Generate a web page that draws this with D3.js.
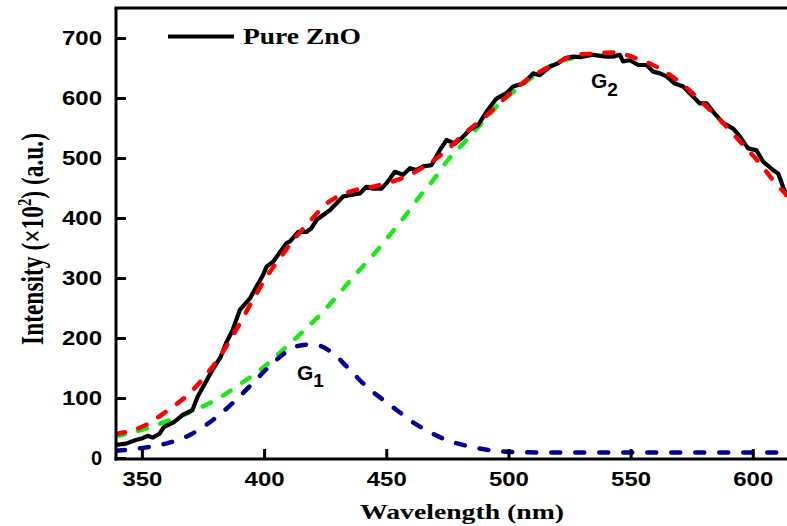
<!DOCTYPE html>
<html>
<head>
<meta charset="utf-8">
<script src="https://cdn.jsdelivr.net/npm/d3@7"></script>
<style>
	body { margin: 0; background: #fff; }
	svg { display: block; }
	.tick text { font-family: "Liberation Sans", Arial, sans-serif; font-weight: bold; font-size: 20px; fill: #000; }
	.label { font-family: "Liberation Serif", "Times New Roman", serif; font-weight: bold; fill: #000; }
	.glabel { font-family: "Liberation Sans", Arial, sans-serif; font-weight: bold; fill: #000; }
</style>
</head>
<body>
<svg width="787" height="526"></svg>
<script>
// measured spectrum (Pure ZnO)
let expWavelength = [339.4, 343.5, 347.5, 350.3, 352.3, 354.4, 357.1, 359.1, 363.2, 366.7, 370.7, 372.8, 375.5, 378.9, 382.3, 384.4, 387.1, 390.1, 394.2, 396.9, 399.6, 401.0, 403.7, 407.2, 409.2, 410.6, 414.0, 417.4, 419.4, 421.5, 426.9, 431.0, 432.4, 435.1, 439.2, 441.9, 444.6, 448.1, 450.1, 453.5, 456.9, 459.7, 462.4, 465.1, 468.5, 471.9, 474.7, 478.1, 480.8, 484.2, 487.6, 491.0, 495.1, 499.2, 501.9, 506.0, 510.1, 512.8, 516.9, 520.3, 523.1, 526.5, 529.2, 534.7, 540.1, 542.8, 545.6, 546.9, 549.7, 553.1, 556.5, 559.2, 562.0, 564.7, 568.1, 571.5, 574.9, 578.3, 581.1, 583.8, 587.9, 592.0, 594.7, 598.1, 601.5, 604.2, 608.3, 610.4, 612.4, 614.0];
let expIntensity = [22, 24, 30, 33, 37, 34, 40, 52, 60, 72, 80, 102, 122, 147, 169, 191, 213, 247, 266, 286, 305, 319, 327, 347, 358, 361, 377, 377, 383, 397, 413, 430, 436, 438, 441, 452, 449, 449, 458, 477, 472, 483, 480, 486, 488, 513, 530, 524, 533, 547, 555, 577, 599, 608, 619, 624, 641, 638, 652, 658, 666, 669, 668, 672, 669, 669, 672, 661, 663, 655, 655, 644, 641, 636, 624, 619, 605, 591, 591, 577, 558, 549, 536, 516, 513, 494, 480, 474, 452, 436];

// cumulative fit (red)
let fitWavelength = [339.4, 351.6, 359.8, 368.7, 376.2, 380.3, 387.8, 396.2, 401.0, 406.5, 411.9, 418.0, 425.6, 435.1, 444.6, 454.2, 463.7, 473.3, 482.9, 489.7, 497.8, 507.4, 518.3, 527.9, 534.7, 542.8, 552.4, 562.0, 571.5, 579.7, 587.9, 596.0, 602.9, 608.3, 614.0];
let fitIntensity = [40, 55, 77, 105, 138, 160, 208, 269, 302, 333, 363, 391, 424, 444, 452, 463, 481, 508, 544, 566, 597, 630, 655, 672, 674, 676, 666, 649, 622, 591, 558, 522, 491, 463, 438];

// peak G2 (green), visible part only (hidden under the fit beyond ~526 nm)
let g2Wavelength = [339.4, 351.6, 361.2, 370.7, 380.3, 389.8, 399.4, 408.5, 416.0, 423.5, 430.3, 437.2, 444.6, 451.5, 456.9, 463.1, 469.2, 475.3, 482.2, 489.0, 496.5, 504.7, 514.2, 523.1, 526.5];
let g2Intensity = [36, 49, 63, 78, 97, 122, 150, 183, 211, 241, 272, 305, 338, 372, 399, 433, 463, 497, 527, 558, 591, 619, 647, 663, 667];

// peak G1 (blue)
let g1Wavelength = [339.4, 348.9, 359.8, 369.4, 378.9, 387.8, 395.9, 403.5, 413.3, 417.9, 422.8, 428.3, 435.1, 441.9, 448.7, 454.9, 460.0, 466.5, 474.7, 484.2, 492.4, 502.0, 517.0, 537.4, 557.9, 578.3, 614.0];
let g1Intensity = [12, 16, 24, 38, 63, 94, 127, 158, 186, 189, 187, 174, 147, 119, 97, 78, 62, 46, 30, 19, 13, 10, 9, 9, 9, 9, 9];

let xTicks = [350, 400, 450, 500, 550, 600];
let yTicks = [0, 100, 200, 300, 400, 500, 600, 700];

let svg = d3.select('svg');
let plotLeft = 116, plotRight = 787, plotTop = 8, plotBottom = 458;

let xScale = d3.scaleLinear().domain([339.4, 614.0]).range([plotLeft, plotRight]);
let yScale = d3.scaleLinear().domain([0, 750]).range([plotBottom, plotTop]);

svg.append('clipPath').attr('id', 'plot')
	.append('rect').attr('x', plotLeft).attr('y', plotTop)
	.attr('width', plotRight - plotLeft).attr('height', plotBottom - plotTop + 2);

function pairs(xs, ys) {
	return xs.map(function(x, i) { return [x, ys[i]]; });
}

let smooth = d3.line()
	.x(function(d) { return xScale(d[0]); })
	.y(function(d) { return yScale(d[1]); })
	.curve(d3.curveMonotoneX);
let raw = d3.line()
	.x(function(d) { return xScale(d[0]); })
	.y(function(d) { return yScale(d[1]); });

let plot = svg.append('g').attr('clip-path', 'url(#plot)');

// green peak
plot.append('path').datum(pairs(g2Wavelength, g2Intensity))
	.attr('d', smooth).attr('fill', 'none')
	.attr('stroke', '#1ee61e').attr('stroke-width', 4.5)
	.attr('stroke-linecap', 'round').attr('stroke-dasharray', '9,14');

// blue peak
plot.append('path').datum(pairs(g1Wavelength, g1Intensity))
	.attr('d', smooth).attr('fill', 'none')
	.attr('stroke', '#00008f').attr('stroke-width', 4.5)
	.attr('stroke-linecap', 'round').attr('stroke-dasharray', '9,15');

// measured
plot.append('path').datum(pairs(expWavelength, expIntensity))
	.attr('d', raw).attr('fill', 'none')
	.attr('stroke', '#000').attr('stroke-width', 4.2)
	.attr('stroke-linejoin', 'round');

// fit
plot.append('path').datum(pairs(fitWavelength, fitIntensity))
	.attr('d', smooth).attr('fill', 'none')
	.attr('stroke', '#ff0000').attr('stroke-width', 4.5)
	.attr('stroke-linecap', 'round').attr('stroke-dasharray', '9,14');

// axes
let xAxis = svg.append('g')
	.attr('transform', 'translate(0,' + (plotBottom + 1) + ')')
	.call(d3.axisBottom(xScale).tickValues(xTicks).tickSizeInner(-10).tickSizeOuter(0).tickPadding(13));
let yAxis = svg.append('g')
	.attr('transform', 'translate(' + plotLeft + ',0)')
	.call(d3.axisLeft(yScale).tickValues(yTicks).tickSizeInner(-10).tickSizeOuter(0).tickPadding(14));

svg.selectAll('.domain, .tick line').attr('stroke', '#000').attr('stroke-width', 3);
svg.selectAll('.tick text').filter(function(d) { return d >= 100; })
	.attr('textLength', 40).attr('lengthAdjust', 'spacingAndGlyphs');
yAxis.select('.domain').attr('d', 'M0,' + (plotBottom + 2.5) + 'V' + plotTop);
xAxis.select('.domain').attr('d', 'M' + (plotLeft - 1.5) + ',0H' + plotRight);

// top frame
svg.append('line')
	.attr('x1', plotLeft - 1.5).attr('x2', plotRight).attr('y1', plotTop).attr('y2', plotTop)
	.attr('stroke', '#000').attr('stroke-width', 3);

// legend
svg.append('line')
	.attr('x1', 168).attr('x2', 234).attr('y1', 36.5).attr('y2', 36.5)
	.attr('stroke', '#000').attr('stroke-width', 4);
svg.append('text').attr('class', 'label')
	.attr('x', 243).attr('y', 44).attr('font-size', 24)
	.attr('textLength', 118).attr('lengthAdjust', 'spacingAndGlyphs')
	.text('Pure ZnO');

// peak labels
let g2 = svg.append('text').attr('class', 'glabel')
	.attr('x', 591).attr('y', 88).attr('font-size', 21);
g2.append('tspan').text('G');
g2.append('tspan').attr('dy', 8).attr('font-size', 19).text('2');

let g1 = svg.append('text').attr('class', 'glabel')
	.attr('x', 297).attr('y', 380).attr('font-size', 21);
g1.append('tspan').text('G');
g1.append('tspan').attr('dy', 7).attr('font-size', 19).text('1');

// axis titles
svg.append('text').attr('class', 'label')
	.attr('x', 360).attr('y', 519).attr('font-size', 21)
	.attr('textLength', 204).attr('lengthAdjust', 'spacingAndGlyphs')
	.text('Wavelength (nm)');

let yTitle = svg.append('text').attr('class', 'label')
	.attr('transform', 'translate(43,239) rotate(-90) scale(1,1.3)')
	.attr('text-anchor', 'middle').attr('font-size', 24)
	.attr('textLength', 212).attr('lengthAdjust', 'spacingAndGlyphs');
yTitle.append('tspan').text('Intensity (\u00d710');
yTitle.append('tspan').attr('dy', -9).attr('font-size', 15).text('2');
yTitle.append('tspan').attr('dy', 9).text(') (a.u.)');
</script>
</body>
</html>
